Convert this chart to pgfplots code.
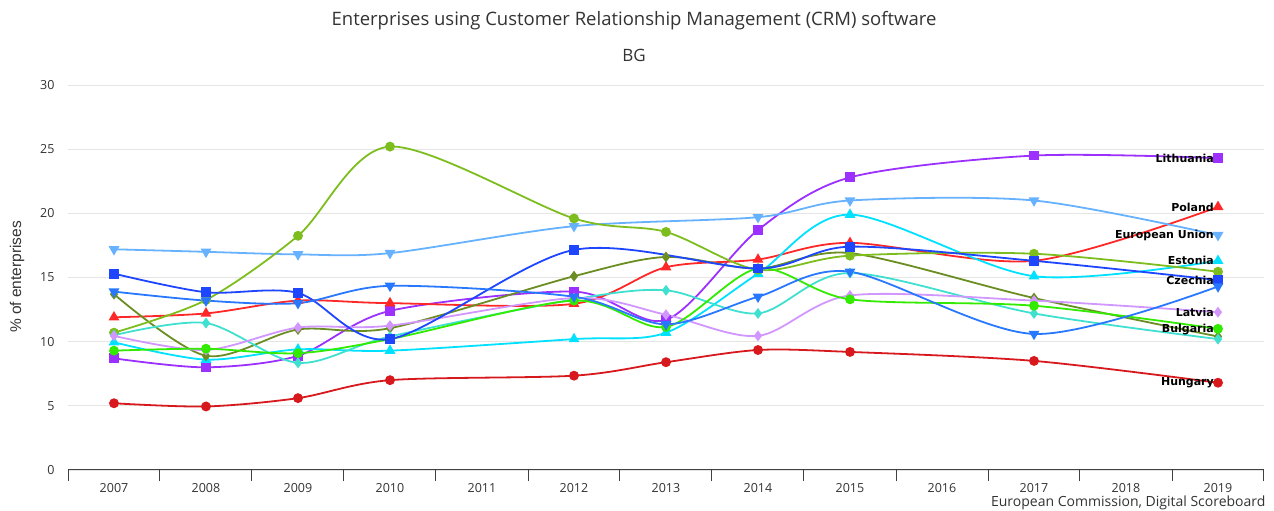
\documentclass[border=0pt]{standalone}
\usepackage{pgfplots}
\pgfplotsset{compat=1.18}
\usepackage{fontspec}
\setmainfont{Open Sans}
\newfontfamily\lblfont{DejaVu Sans}
\newfontfamily\arialfont{Liberation Sans}
\definecolor{cLit}{RGB}{155,48,255}
\definecolor{cPol}{RGB}{255,40,40}
\definecolor{cEU}{RGB}{102,178,255}
\definecolor{cEst}{RGB}{0,225,255}
\definecolor{cCze}{RGB}{30,70,255}
\definecolor{cMB}{RGB}{40,120,255}
\definecolor{cOli}{RGB}{107,142,35}
\definecolor{cYG}{RGB}{125,190,30}
\definecolor{cTur}{RGB}{64,224,208}
\definecolor{cLav}{RGB}{210,150,255}
\definecolor{cGrn}{RGB}{50,235,0}
\definecolor{cHun}{RGB}{215,25,30}
\definecolor{txt}{RGB}{51,51,51}
\begin{document}
\begin{tikzpicture}[x=1pt,y=1pt]
\path[use as bounding box] (0,0) rectangle (1274,511);
\begin{axis}[
  at={(68pt,41pt)}, anchor=south west,
  scale only axis, width=1196pt, height=385pt,
  xmin=2006.5, xmax=2019.5, ymin=0, ymax=30,
  clip=false,
  axis x line=bottom, axis y line=left,
  y axis line style={draw=none},
  x axis line style={-, color=black!75, line width=1pt},
  xtick={2007,...,2019},
  xticklabels={2007,2008,2009,2010,2011,2012,2013,2014,2015,2016,2017,2018,2019},
  minor xtick={2006.5,2007.5,...,2019.5},
  tick align=outside,
  major tick length=0pt,
  minor tick length=11pt,
  minor tick style={color=black!75, line width=1pt},
  ytick={0,5,...,30},
  ymajorgrids,
  grid style={color=black!10, line width=0.8pt},
  /pgf/number format/assume math mode=true,
  ticklabel style={font=\fontsize{12.5}{14}\selectfont, text=txt},
  xticklabel style={yshift=-10pt},
  yticklabel style={xshift=-10pt},
  every axis plot/.append style={line width=1.8pt, smooth, tension=0.5},
]
% Lithuania
\addplot[cLit, mark=square*, mark size=4pt, mark options={fill=cLit}] coordinates {
(2007,8.7)(2008,8.0)(2009,8.9)(2010,12.4)(2012,13.9)(2013,11.7)(2014,18.7)(2015,22.8)(2017,24.5)(2019,24.3)};
% Poland
\addplot[cPol, mark=triangle*, mark size=4.5pt, mark options={fill=cPol}] coordinates {
(2007,11.9)(2008,12.2)(2009,13.2)(2010,13.0)(2012,12.95)(2013,15.8)(2014,16.4)(2015,17.7)(2017,16.3)(2019,20.5)};
% European Union
\addplot[cEU, mark=triangle*, mark size=4.5pt, mark options={fill=cEU, rotate=180}] coordinates {
(2007,17.2)(2008,17.0)(2009,16.8)(2010,16.9)(2012,19.0)(2014,19.7)(2015,21.0)(2017,21.0)(2019,18.3)};
% Estonia
\addplot[cEst, mark=triangle*, mark size=4.5pt, mark options={fill=cEst}] coordinates {
(2007,9.95)(2008,8.6)(2009,9.4)(2010,9.3)(2012,10.2)(2013,10.7)(2014,15.3)(2015,19.9)(2017,15.1)(2019,16.3)};
% Olive
\addplot[cOli, mark=diamond*, mark size=4pt, mark options={fill=cOli}] coordinates {
(2007,13.7)(2008,8.9)(2009,10.95)(2010,11.05)(2012,15.1)(2013,16.6)(2014,15.7)(2015,16.9)(2017,13.4)(2019,10.4)};
% Yellow-green
\addplot[cYG, mark=*, mark size=4pt, mark options={fill=cYG}] coordinates {
(2007,10.7)(2008,13.25)(2009,18.25)(2010,25.2)(2012,19.6)(2013,18.55)(2014,15.6)(2015,16.7)(2017,16.85)(2019,15.45)};
% Turquoise
\addplot[cTur, mark=diamond*, mark size=4pt, mark options={fill=cTur}] coordinates {
(2007,10.5)(2008,11.45)(2009,8.35)(2010,10.4)(2012,13.3)(2013,14.0)(2014,12.2)(2015,15.35)(2017,12.2)(2019,10.2)};
% Lavender (Latvia)
\addplot[cLav, mark=diamond*, mark size=4pt, mark options={fill=cLav}] coordinates {
(2007,10.45)(2008,9.35)(2009,11.1)(2010,11.25)(2012,13.4)(2013,12.1)(2014,10.45)(2015,13.6)(2017,13.2)(2019,12.3)};
% Green (Bulgaria)
\addplot[cGrn, mark=*, mark size=4pt, mark options={fill=cGrn}] coordinates {
(2007,9.3)(2008,9.45)(2009,9.1)(2010,10.2)(2012,13.2)(2013,11.15)(2014,15.7)(2015,13.3)(2017,12.8)(2019,11.0)};
% Czechia
\addplot[cCze, mark=square*, mark size=4pt, mark options={fill=cCze}] coordinates {
(2007,15.3)(2008,13.85)(2009,13.8)(2010,10.2)(2012,17.15)(2014,15.7)(2015,17.4)(2017,16.3)(2019,14.8)};
% medium blue
\addplot[cMB, mark=triangle*, mark size=4.5pt, mark options={fill=cMB, rotate=180}] coordinates {
(2007,13.9)(2008,13.2)(2009,13.0)(2010,14.35)(2012,13.5)(2013,11.35)(2014,13.5)(2015,15.45)(2017,10.6)(2019,14.3)};
% Hungary
\addplot[cHun, mark=*, mark size=4pt, mark options={fill=cHun}] coordinates {
(2007,5.2)(2008,4.95)(2009,5.6)(2010,7.0)(2012,7.35)(2013,8.4)(2014,9.35)(2015,9.2)(2017,8.5)(2019,6.8)};
% data labels
\begin{scope}[every node/.style={anchor=east, xshift=-3pt, font=\lblfont\bfseries\fontsize{11}{13}\selectfont, text=black, inner sep=1pt}]
\node at (axis cs:2019,24.3) {Lithuania};
\node at (axis cs:2019,20.5) {Poland};
\node at (axis cs:2019,18.3) {European Union};
\node at (axis cs:2019,16.3) {Estonia};
\node at (axis cs:2019,14.8) {Czechia};
\node at (axis cs:2019,12.3) {Latvia};
\node at (axis cs:2019,10.95) {Bulgaria};
\node at (axis cs:2019,6.8) {Hungary};
\end{scope}
\end{axis}
\node[font=\fontsize{18.5}{22}\selectfont, text=txt] at (634,490) {Enterprises using Customer Relationship Management (CRM) software};
\node[font=\fontsize{17}{20}\selectfont, text=txt] at (634,456) {BG};
\node[font=\arialfont\fontsize{15.5}{18}\selectfont, text=txt, rotate=90] at (17,234) {\% of enterprises};
\node[font=\fontsize{14}{16}\selectfont, text=txt, anchor=east] at (1269,8) {European Commission, Digital Scoreboard};
\end{tikzpicture}
\end{document}
